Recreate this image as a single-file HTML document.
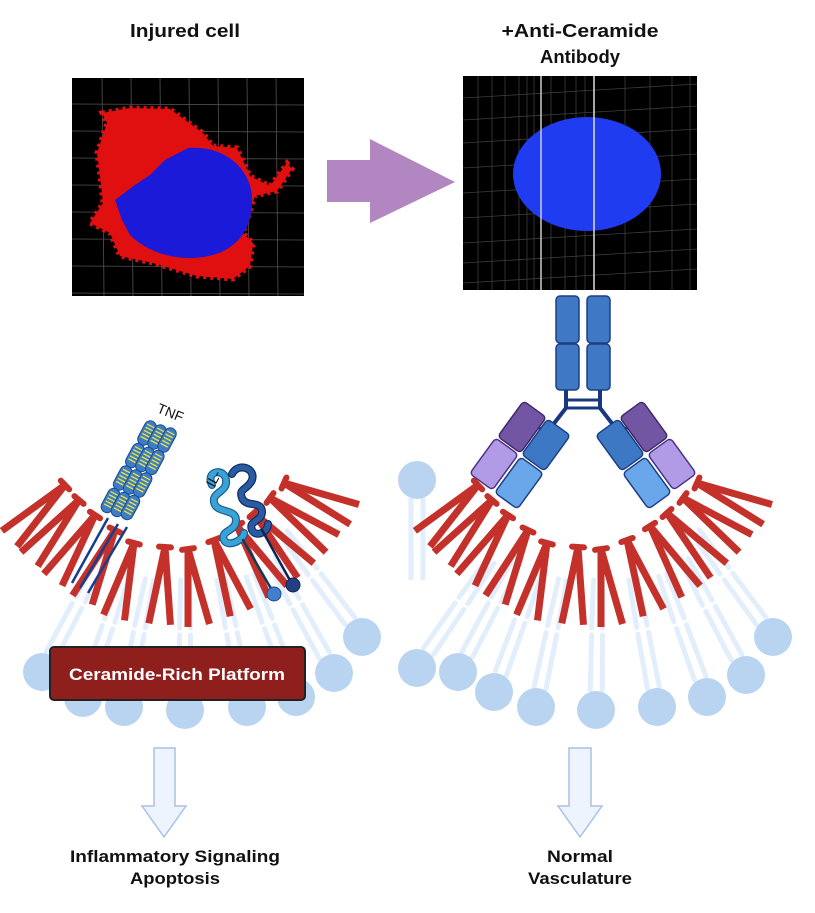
<!DOCTYPE html>
<html><head><meta charset="utf-8">
<style>
html,body{margin:0;padding:0;background:#fff;}
svg{display:block;}
text{font-family:"Liberation Sans",sans-serif;font-weight:bold;}
</style></head>
<body>
<svg id="s" width="815" height="913" viewBox="0 0 815 913" xmlns="http://www.w3.org/2000/svg">
<rect width="815" height="913" fill="#fff"/>
<!-- titles -->
<text x="185" y="37" font-size="18" text-anchor="middle" fill="#111" textLength="110" lengthAdjust="spacingAndGlyphs">Injured cell</text>
<text x="580" y="37" font-size="18" text-anchor="middle" fill="#111" textLength="157" lengthAdjust="spacingAndGlyphs">+Anti-Ceramide</text>
<text x="580" y="63" font-size="18" text-anchor="middle" fill="#111" textLength="80" lengthAdjust="spacingAndGlyphs">Antibody</text>

<!-- left image -->
<rect x="72" y="78" width="232" height="218" fill="#000"/>
<g id="gridL" stroke="#777" stroke-width="0.8" opacity="0.7"></g>
<path d="M102,113 L130,108 L170,109 L203,133 L213,146 L237,148 L250,176 L270,186 L287,163 L292,169 L277,191 L255,196 L243,233 L253,243 L250,266 L233,279 L197,276 L153,263 L120,256 L110,233 L90,223 L103,203 L100,176 L97,153 L107,123 Z" fill="#e01010" stroke="#e01010" stroke-width="5" stroke-dasharray="3 4"/>
<path d="M188,148 C230,145 255,175 252,205 C250,240 225,258 190,258 C160,258 140,245 130,235 L122,220 L115,200 L135,185 L150,175 L165,160 Z" fill="#1a1ad8"/>

<!-- arrow -->
<polygon points="327,160 370,160 370,139 455,182 370,223 370,202 327,202" fill="#b286c0"/>

<!-- right image -->
<rect x="463" y="76" width="234" height="214" fill="#000"/>
<g id="gridR" stroke="#888" stroke-width="0.8" opacity="0.45"></g>
<ellipse cx="587" cy="174" rx="74" ry="57" fill="#1f3cf0"/>
<line x1="541" y1="76" x2="541" y2="290" stroke="#ccc" stroke-width="1.5"/>
<line x1="594" y1="76" x2="594" y2="290" stroke="#ddd" stroke-width="1.5"/>

<g id="lipids"></g>
<g id="vs"></g>

<!-- antibody -->
<g stroke="#1d3f86" stroke-width="1.5">
<rect x="556" y="296" width="23" height="47" rx="4" fill="#3f79c4"/>
<rect x="587" y="296" width="23" height="47" rx="4" fill="#3f79c4"/>
<rect x="556" y="344" width="23" height="46" rx="4" fill="#3f79c4"/>
<rect x="587" y="344" width="23" height="46" rx="4" fill="#3f79c4"/>
</g>
<g stroke="#17387e" stroke-width="4" fill="none">
<path d="M566,390 L566,408 L552,426"/>
<path d="M600,390 L600,408 L614,426"/>
<line x1="566" y1="400" x2="600" y2="400" stroke-width="3"/>
<line x1="566" y1="408" x2="600" y2="408" stroke-width="3"/>
<line x1="530" y1="420" x2="544" y2="432" stroke-width="3"/>
<line x1="636" y1="420" x2="622" y2="432" stroke-width="3"/>
</g>
<g stroke-width="1.5">
<rect x="-14" y="-22" width="28" height="44" rx="4" fill="#7356a3" stroke="#3d2a6a" transform="translate(522,427) rotate(36)"/>
<rect x="-14" y="-22" width="28" height="44" rx="4" fill="#b19ae6" stroke="#4b3383" transform="translate(494,464) rotate(36)"/>
<rect x="-14" y="-22" width="28" height="44" rx="4" fill="#3d78c4" stroke="#1d3f86" transform="translate(546,445) rotate(36)"/>
<rect x="-14" y="-22" width="28" height="44" rx="4" fill="#6aa6ea" stroke="#1d3f86" transform="translate(519,483) rotate(36)"/>
<rect x="-14" y="-22" width="28" height="44" rx="4" fill="#7356a3" stroke="#3d2a6a" transform="translate(644,427) rotate(-36)"/>
<rect x="-14" y="-22" width="28" height="44" rx="4" fill="#b19ae6" stroke="#4b3383" transform="translate(672,464) rotate(-36)"/>
<rect x="-14" y="-22" width="28" height="44" rx="4" fill="#3d78c4" stroke="#1d3f86" transform="translate(620,445) rotate(-36)"/>
<rect x="-14" y="-22" width="28" height="44" rx="4" fill="#6aa6ea" stroke="#1d3f86" transform="translate(647,483) rotate(-36)"/>
</g>

<!-- TNF -->
<g id="tnf"></g>
<text x="0" y="0" font-size="14" fill="#111" transform="translate(156,412) rotate(22)" style="font-weight:normal">TNF</text>
<!-- IL-1 -->
<g fill="none" stroke-linecap="round">
<path d="M212,485 C205,470 225,468 226,480 C228,492 212,492 214,502 C216,514 236,508 236,520 C236,532 220,530 224,540 C228,548 244,540 244,533" stroke="#1c5e93" stroke-width="8"/>
<path d="M212,485 C205,470 225,468 226,480 C228,492 212,492 214,502 C216,514 236,508 236,520 C236,532 220,530 224,540 C228,548 244,540 244,533" stroke="#3aa3d6" stroke-width="5.5"/>
<path d="M232,474 C238,462 256,468 252,480 C248,490 238,488 242,498 C246,508 262,500 262,512 C262,522 248,520 252,530 C256,538 268,532 268,524" stroke="#0f2f66" stroke-width="8"/>
<path d="M232,474 C238,462 256,468 252,480 C248,490 238,488 242,498 C246,508 262,500 262,512 C262,522 248,520 252,530 C256,538 268,532 268,524" stroke="#2a5aa2" stroke-width="5.5"/>
<line x1="243" y1="540" x2="273" y2="592" stroke="#0f3c5c" stroke-width="2.5"/>
<line x1="262" y1="530" x2="292" y2="584" stroke="#0f2452" stroke-width="2.5"/>
</g>
<circle cx="274" cy="594" r="7" fill="#3f7fcc" stroke="#1d4a8a" stroke-width="1"/>
<circle cx="293" cy="585" r="7" fill="#243f80" stroke="#0f2452" stroke-width="1"/>
<text font-size="14" fill="#111" transform="translate(214,488) rotate(-62)" style="font-weight:normal">IL-</text>

<!-- platform box -->
<rect x="50" y="647" width="255" height="53" rx="4" fill="#8f1f1d" stroke="#222" stroke-width="2"/>
<text x="177" y="680" font-size="17" text-anchor="middle" fill="#fff" textLength="216" lengthAdjust="spacingAndGlyphs">Ceramide-Rich Platform</text>

<!-- down arrows -->
<polygon points="154,748 175,748 175,806 186,806 164,837 142,806 154,806" fill="#eef4fd" stroke="#a8c2e6" stroke-width="1.5"/>
<polygon points="569,748 591,748 591,806 602,806 580,837 558,806 569,806" fill="#eef4fd" stroke="#a8c2e6" stroke-width="1.5"/>

<text x="175" y="862" font-size="17" text-anchor="middle" fill="#111" textLength="210" lengthAdjust="spacingAndGlyphs">Inflammatory Signaling</text>
<text x="175" y="884" font-size="17" text-anchor="middle" fill="#111" textLength="90" lengthAdjust="spacingAndGlyphs">Apoptosis</text>
<text x="580" y="862" font-size="17" text-anchor="middle" fill="#111" textLength="66" lengthAdjust="spacingAndGlyphs">Normal</text>
<text x="580" y="884" font-size="17" text-anchor="middle" fill="#111" textLength="104" lengthAdjust="spacingAndGlyphs">Vasculature</text>
</svg>
<script>
(function(){
var NS="http://www.w3.org/2000/svg";
function el(p,t,a){var e=document.createElementNS(NS,t);for(var k in a)e.setAttribute(k,a[k]);p.appendChild(e);return e;}
var gL=document.getElementById('gridL');
for(var x=102;x<304;x+=29)el(gL,'line',{x1:x,y1:78,x2:x+2,y2:296});
for(var y=104;y<296;y+=27)el(gL,'line',{x1:72,y1:y,x2:304,y2:y+1});
var gR=document.getElementById('gridR');
[478,492,505,519,527,534,551,565,576,585,625,650,672,690].forEach(function(x){el(gR,'line',{x1:x,y1:76,x2:x,y2:290});});
[90,112,135,160,185,210,235,255,275].forEach(function(y){el(gR,'line',{x1:463,y1:y+8,x2:697,y2:y-6});});
var lg=document.getElementById('lipids');
var heads=[[417,668],[458,672],[494,692],[536,707],[596,710],[657,707],[707,697],[746,675],[773,637],
 [42,672],[83,698],[124,707],[185,710],[247,707],[296,697],[334,673],[362,637]];
heads.forEach(function(h){
  var cx=h[0]<400?185:600, cy=402;
  var dx=cx-h[0], dy=cy-h[1], d=Math.sqrt(dx*dx+dy*dy); dx/=d; dy/=d;
  var px=-dy, py=dx;
  [-6,6].forEach(function(o){
    el(lg,'line',{x1:h[0]+dx*20+px*o,y1:h[1]+dy*20+py*o,x2:h[0]+dx*75+px*o*0.9,y2:h[1]+dy*75+py*o*0.9,stroke:'#e2eefb','stroke-width':5,'stroke-linecap':'round'});
    el(lg,'line',{x1:h[0]+dx*82+px*o*0.9,y1:h[1]+dy*82+py*o*0.9,x2:h[0]+dx*130+px*o*0.7,y2:h[1]+dy*130+py*o*0.7,stroke:'#e2eefb','stroke-width':5,'stroke-linecap':'round'});
  });
});
el(lg,'line',{x1:411,y1:498,x2:411,y2:580,stroke:'#e2eefb','stroke-width':5});
el(lg,'line',{x1:423,y1:498,x2:423,y2:580,stroke:'#e2eefb','stroke-width':5});
el(lg,'circle',{cx:417,cy:480,r:19,fill:'#b9d4f0'});
heads.forEach(function(h){el(lg,'circle',{cx:h[0],cy:h[1],r:19,fill:'#b9d4f0'});});
var vg=document.getElementById('vs');
var tops=[[478,485],[492,500],[508,515],[528,530],[547,543],[578,547],[601,549],[627,540],[650,526],[667,513],[683,498],[697,483]];
var phis=[-46,-40,-33,-25,-15,-4,8,20,32,42,54,66];
[0,-413].forEach(function(sh){
 tops.forEach(function(t,i){
  var x=t[0]+sh,y=t[1];
  [-8,8].forEach(function(s){
    var a=(phis[i]+s)*Math.PI/180;
    el(vg,'line',{x1:x,y1:y,x2:x+78*Math.sin(a),y2:y+78*Math.cos(a),stroke:'#c4312b','stroke-width':7});
  });
  var a=phis[i]*Math.PI/180;
  el(vg,'line',{x1:x-6*Math.cos(a),y1:y+6*Math.sin(a),x2:x+6*Math.cos(a),y2:y-6*Math.sin(a),stroke:'#c4312b','stroke-width':6,'stroke-linecap':'round'});
 });
});
var tg=document.getElementById('tnf');
[[72,583],[80,588],[88,593]].forEach(function(b,i){
  var tx=[108,118,127][i], ty=[518,524,527][i];
  el(tg,'line',{x1:tx,y1:ty,x2:b[0],y2:b[1],stroke:'#173e8a','stroke-width':2.5});
});
var cols=[[147,433],[157,437],[167,440]];
var dir=[-39/3.2,72/3.2];
cols.forEach(function(c){
  for(var k=0;k<4;k++){
    var x=c[0]+dir[0]*k*1.0, y=c[1]+dir[1]*k*1.0;
    var g=el(tg,'g',{transform:'translate('+x+','+y+') rotate(28)'});
    el(g,'rect',{x:-6,y:-13,width:12,height:26,rx:6,fill:'#3d7cc9',stroke:'#1d4a8a','stroke-width':1});
    for(var j=-8;j<=8;j+=3.5)el(g,'line',{x1:-4,y1:j,x2:4,y2:j,stroke:'#e6e23a','stroke-width':1.4});
  }
});
})();
</script>
</body></html>
